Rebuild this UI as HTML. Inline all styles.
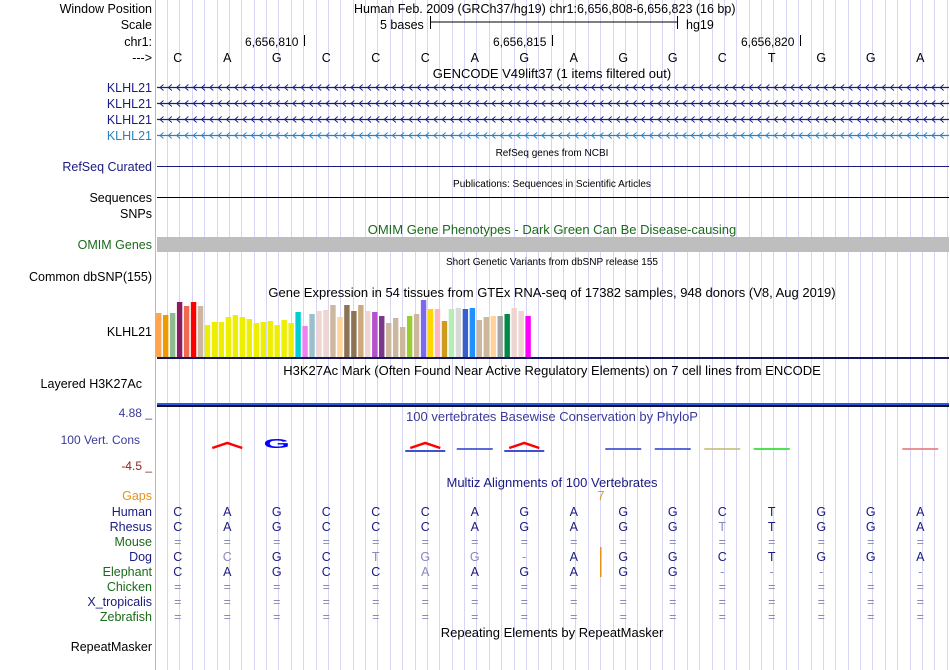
<!DOCTYPE html>
<html><head><meta charset="utf-8">
<style>
body{margin:0;background:#fff;}
svg{display:block;font-family:"Liberation Sans",sans-serif;}
</style></head>
<body>
<svg id="s" width="950" height="670" viewBox="0 0 950 670" xmlns="http://www.w3.org/2000/svg">
<g id="grid"></g>
<line x1="155.5" y1="0" x2="155.5" y2="670" stroke="#f4a0a0"/>
<g font-size="12.5" text-anchor="end" fill="#000">
<text x="152" y="13">Window Position</text>
<text x="152" y="29">Scale</text>
<text x="152" y="46">chr1:</text>
<text x="152" y="62">---&gt;</text>
<text x="152" y="92" fill="#1a1a80">KLHL21</text>
<text x="152" y="108" fill="#1a1a80">KLHL21</text>
<text x="152" y="124" fill="#1a1a80">KLHL21</text>
<text x="152" y="140" fill="#2a80c0">KLHL21</text>
<text x="152" y="171" fill="#1a1a80">RefSeq Curated</text>
<text x="152" y="202">Sequences</text>
<text x="152" y="218">SNPs</text>
<text x="152" y="249" fill="#1a6a1a">OMIM Genes</text>
<text x="152" y="281">Common dbSNP(155)</text>
<text x="152" y="336">KLHL21</text>
<text x="142" y="388">Layered H3K27Ac</text>
<text x="152" y="417" fill="#3a3a9a" font-size="12">4.88 _</text>
<text x="140" y="444" fill="#3a3a9a" font-size="12">100 Vert. Cons</text>
<text x="152" y="470" fill="#8b2020" font-size="12">-4.5 _</text>
<text x="152" y="500" fill="#e8901a">Gaps</text>
<text x="152" y="651">RepeatMasker</text>
</g>
<g id="species" font-size="12.5" text-anchor="end"></g>
<g font-size="12.5" fill="#000">
<text x="354" y="13">Human Feb. 2009 (GRCh37/hg19)   chr1:6,656,808-6,656,823 (16 bp)</text>
<text x="380" y="29">5 bases</text>
<line x1="430" y1="22" x2="677" y2="22" stroke="#000"/>
<line x1="430.5" y1="16" x2="430.5" y2="29" stroke="#000"/>
<line x1="677.5" y1="16" x2="677.5" y2="29" stroke="#000"/>
<text x="686" y="29">hg19</text>
<text x="245" y="46" font-size="12">6,656,810</text>
<line x1="304.5" y1="35" x2="304.5" y2="46" stroke="#000"/>
<text x="493" y="46" font-size="12">6,656,815</text>
<line x1="552.5" y1="35" x2="552.5" y2="46" stroke="#000"/>
<text x="741" y="46" font-size="12">6,656,820</text>
<line x1="800.5" y1="35" x2="800.5" y2="46" stroke="#000"/>
</g>
<g id="bases" font-size="12.5" text-anchor="middle"></g>
<g font-size="13" text-anchor="middle">
<text x="552" y="78">GENCODE V49lift37 (1 items filtered out)</text>
<text x="552" y="156" font-size="10">RefSeq genes from NCBI</text>
<text x="552" y="187" font-size="10">Publications: Sequences in Scientific Articles</text>
<text x="552" y="234" fill="#1a6a1a">OMIM Gene Phenotypes - Dark Green Can Be Disease-causing</text>
<text x="552" y="265" font-size="10">Short Genetic Variants from dbSNP release 155</text>
<text x="552" y="297">Gene Expression in 54 tissues from GTEx RNA-seq of 17382 samples, 948 donors (V8, Aug 2019)</text>
<text x="552" y="375">H3K27Ac Mark (Often Found Near Active Regulatory Elements) on 7 cell lines from ENCODE</text>
<text x="552" y="421" fill="#3a3a9a">100 vertebrates Basewise Conservation by PhyloP</text>
<text x="552" y="487" fill="#1a1a80">Multiz Alignments of 100 Vertebrates</text>
<text x="552" y="637">Repeating Elements by RepeatMasker</text>
</g>
<g id="genes"></g>
<line x1="157" y1="166.5" x2="949" y2="166.5" stroke="#1a1a80"/>
<line x1="157" y1="197.5" x2="949" y2="197.5" stroke="#000"/>
<rect x="157" y="237" width="792" height="15" fill="#bebebe"/>
<g id="gtex"></g>
<rect x="157" y="357" width="792" height="2" fill="#14145a"/>
<rect x="157" y="403" width="792" height="2" fill="#2a5ae0"/>
<rect x="157" y="405" width="792" height="2" fill="#101030"/>
<g id="phylop"></g>
<text x="601" y="500" font-size="12.5" fill="#e8901a" text-anchor="middle">7</text>
<g id="align" font-size="12.5" text-anchor="middle"></g>
<rect x="600" y="547" width="1.5" height="16" fill="#e8901a"/>
<rect x="600" y="563" width="1.5" height="14" fill="#e8901a"/>
</svg>
<script>
const refBases = ["C","A","G","C","C","C","A","G","A","G","G","C","T","G","G","A"];
const gtexValues = [44,42,44,55,51,55,51,32,35,35,40,42,40,38,34,35,36,32,37,34,45,31,43,46,47,52,40,52,46,52,46,45,41,34,39,30,41,43,57,48,48,36,48,49,48,49,37,40,41,41,43,49,46,41];
const gtexColors = ["#FFA54F","#EE9A00","#8FBC8F","#8B1C62","#EE6A50","#FF0000","#CDB79E","#EEEE00","#EEEE00","#EEEE00","#EEEE00","#EEEE00","#EEEE00","#EEEE00","#EEEE00","#EEEE00","#EEEE00","#EEEE00","#EEEE00","#EEEE00","#00CED1","#EE82EE","#9AC0CD","#EED5D2","#EED5D2","#CDB79E","#FFD39B","#8B7355","#8B7355","#CDAA7D","#EED5D2","#B452CD","#7A378B","#CDB79E","#CDB79E","#CDB79E","#9ACD32","#CDB79E","#7B68EE","#FFD700","#FFB6C1","#CD9B1D","#B4EEB4","#D9D9D9","#3A5FCD","#1E90FF","#CDB79E","#CDB79E","#FFD39B","#A6A6A6","#008B45","#EED5D2","#EED5D2","#FF00FF"];
const species = ["Human","Rhesus","Mouse","Dog","Elephant","Chicken","X_tropicalis","Zebrafish"];
const speciesColors = ["#1a1a80","#1a1a80","#1a6a1a","#1a1a80","#1a6a1a","#1a6a1a","#1a1a80","#1a6a1a"];
const alignRows = [
 "CAGCCCAGAGGCTGGA",
 "CAGCCCAGAGGtTGGA",
 "================",
 "CcGCtgg-AGGCTGGA",
 "CAGCCaAGAGG-----",
 "================",
 "================",
 "================"];
const phylopValues = [0,1,2,0,0,1,-0.3,1,0,-0.3,-0.3,-0.5,-0.5,0,0,-0.3];
const phylopColors = ["#fff","red","blue","#fff","#fff","red","#4050d0","red","#fff","#4050d0","#4050d0","#c8c080","#33dd33","#fff","#fff","#e88080"];

const NS="http://www.w3.org/2000/svg";
function mk(tag, attrs, parent){const e=document.createElementNS(NS,tag);for(const k in attrs)e.setAttribute(k,attrs[k]);parent.appendChild(e);return e;}
const x0=156, bw=49.5;
function bx(i){return x0+bw*i+bw/2;}
// grid
const grid=document.getElementById('grid');
for(let i=0;i<64;i++){const x=Math.round(167+12.375*i)+0.5;
 const l=mk('line',{x1:x,y1:0,x2:x,y2:670,stroke:'#d6d6f4'},grid);
 
 }
// bases
const bg=document.getElementById('bases');
refBases.forEach((b,i)=>{const t=mk('text',{x:bx(i)-3,y:62},bg);t.textContent=b;
 
 });
// genes
const gg=document.getElementById('genes');
[87,103,119,135].forEach((y,k)=>{const c=k==3?'#2a80c0':'#1a1a80';
 const l=mk('line',{x1:157,y1:y+0.5,x2:949,y2:y+0.5,stroke:c,'stroke-width':1.3},gg);
 
 
 let d='';for(let x=160;x<945;x+=8.3){d+=`M${x+3.5} ${y-2.5}L${x} ${y+0.5}L${x+3.5} ${y+3.5}`;}
 const p=mk('path',{d:d,stroke:c,fill:'none','stroke-width':0.9},gg);
 
 });
// gtex
const gt=document.getElementById('gtex');
const gBase=357, gScale=1.0;
function gy(v){return gBase-v*gScale;}
gtexValues.forEach((v,i)=>{const r=mk('rect',{x:156+i*6.97,y:gy(v),width:5.4,height:gBase-gy(v),fill:gtexColors[i]},gt);
 
 });
// phylop
const ph=document.getElementById('phylop');
const pMid=448;
function py(v){return pMid-v*5;}
phylopValues.forEach((v,i)=>{if(v===0)return;const cx=bx(i)-3,c=phylopColors[i];
 let e;
 if(v>1.5){e=mk('text',{x:cx/1.7,y:pMid/0.65,'font-size':20,'font-weight':'bold',fill:c,'text-anchor':'middle',transform:'scale(1.7 0.65)'},ph);e.textContent=refBases[i];}
 else if(v>0){e=mk('path',{d:`M${cx-15} ${pMid}L${cx} ${py(v)}L${cx+15} ${pMid}`,stroke:c,fill:'none','stroke-width':2.5},ph);
  if(i>3){const b=mk('rect',{x:cx-20,y:pMid+2,width:40,height:2,fill:'#4050d0'},ph);
   
   }}
 else{e=mk('rect',{x:cx-18,y:pMid,width:36,height:Math.max(2,-v*4),fill:c,opacity:0.85},ph);}
 
 });
// alignment
const sp=document.getElementById('species'), al=document.getElementById('align');
species.forEach((s,r)=>{const y=516+r*15;
 const t=mk('text',{x:152,y:y,fill:speciesColors[r]},sp);t.textContent=s;
 
 
 alignRows[r].split('').forEach((ch,i)=>{let txt=ch,col='#1a1a80';
  if(ch==='='||ch==='-'){col='#8888bb';}
  else if(ch===ch.toLowerCase()){txt=ch.toUpperCase();col='#8888bb';}
  const a=mk('text',{x:bx(i)-3,y:y,fill:col},al);a.textContent=txt;
  
  });
});
</script>
</body></html>
